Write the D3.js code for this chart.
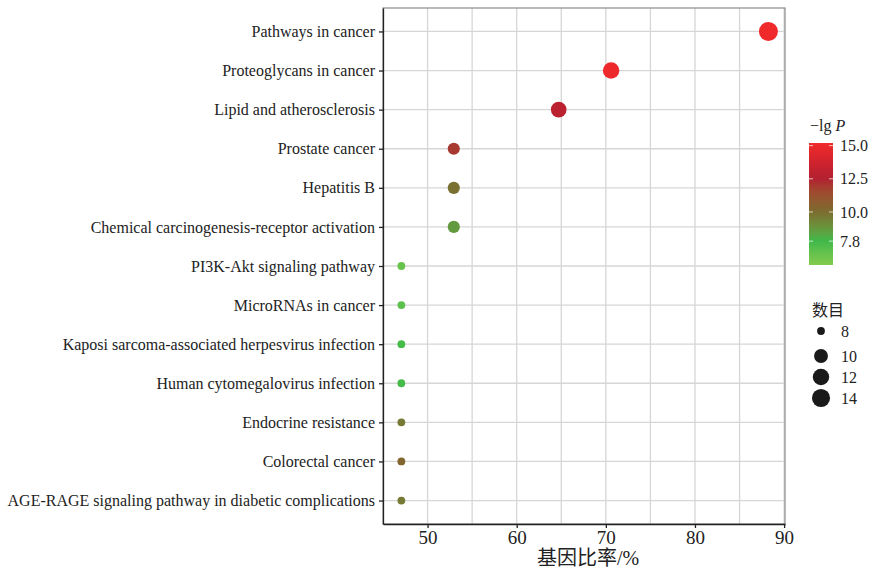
<!DOCTYPE html>
<html lang="zh">
<head>
<meta charset="utf-8">
<title>KEGG bubble chart</title>
<script src="https://cdn.jsdelivr.net/npm/d3@7"></script>
<style>
  body { margin: 0; background: #fff; }
  svg text { font-family: "Liberation Serif", "Noto Sans CJK SC", serif; fill: #222; }
</style>
</head>
<body>
<script>
// data
const pathways = [
  "Pathways in cancer",
  "Proteoglycans in cancer",
  "Lipid and atherosclerosis",
  "Prostate cancer",
  "Hepatitis B",
  "Chemical carcinogenesis-receptor activation",
  "PI3K-Akt signaling pathway",
  "MicroRNAs in cancer",
  "Kaposi sarcoma-associated herpesvirus infection",
  "Human cytomegalovirus infection",
  "Endocrine resistance",
  "Colorectal cancer",
  "AGE-RAGE signaling pathway in diabetic complications"
];
const geneRatio = [88.24, 70.59, 64.71, 52.94, 52.94, 52.94, 47.06, 47.06, 47.06, 47.06, 47.06, 47.06, 47.06];
const counts    = [15, 12, 11, 9, 9, 9, 8, 8, 8, 8, 8, 8, 8];
const negLogP   = [15.1, 15.0, 12.9, 12.0, 9.9, 8.7, 6.8, 7.1, 7.6, 7.6, 9.6, 10.3, 9.6];
const xTicks = [50, 60, 70, 80, 90];
const xMinor = [55, 65, 75, 85];
const colorTicks = [7.8, 10.0, 12.5, 15.0];
const sizeBreaks = [8, 10, 12, 14];

const W = 875, H = 570;
const pLeft = 383, pRight = 785, pTop = 8, pBottom = 524;

const svg = d3.select("body").append("svg")
  .attr("width", W).attr("height", H);

const x = d3.scaleLinear().domain([45, 90.1]).range([pLeft, pRight]);
const y = d3.scalePoint().domain(pathways).range([pTop, pBottom]).padding(0.6);
// size scale, shaped to what the dots measure in the picture
const r = d3.scaleLinear().domain([8, 9, 11, 15]).range([3.9, 6.1, 7.8, 9.5]);
// green -> olive -> red, as in the picture
const color = d3.scaleLinear()
  .domain([6.0, 7.8, 10.0, 12.5, 15.2])
  .range(["#84cb4e", "#3db94a", "#7b6c2f", "#b21f30", "#f22a2a"])
  .interpolate(d3.interpolateLab);

// grid
const grid = svg.append("g");
grid.selectAll(".gx").data(xTicks.concat(xMinor)).enter().append("line")
  .attr("x1", d => x(d)).attr("x2", d => x(d))
  .attr("y1", pTop).attr("y2", pBottom)
  .attr("stroke", "#d6d6d6").attr("stroke-width", 1.3);
grid.selectAll(".gy").data(pathways).enter().append("line")
  .attr("x1", pLeft).attr("x2", pRight)
  .attr("y1", d => y(d)).attr("y2", d => y(d))
  .attr("stroke", "#d6d6d6").attr("stroke-width", 1.3);

// panel border (grey) then black axis lines
svg.append("rect")
  .attr("x", pLeft).attr("y", pTop)
  .attr("width", pRight - pLeft).attr("height", pBottom - pTop)
  .attr("fill", "none").attr("stroke", "#8a8a8a").attr("stroke-width", 1.2);

// points
svg.append("g").selectAll("circle")
  .data(pathways).enter().append("circle")
  .attr("cx", (d, i) => x(geneRatio[i]))
  .attr("cy", d => y(d))
  .attr("r", (d, i) => r(counts[i]))
  .attr("fill", (d, i) => color(negLogP[i]));

// axes
const yAxis = svg.append("g")
  .attr("transform", "translate(" + pLeft + ",0)")
  .call(d3.axisLeft(y).tickSize(4).tickSizeOuter(0).tickPadding(4));
yAxis.selectAll("text").style("font-size", "16px");

const xAxis = svg.append("g")
  .attr("transform", "translate(0," + pBottom + ")")
  .call(d3.axisBottom(x).tickValues(xTicks).tickSize(4).tickSizeOuter(0).tickPadding(3));
xAxis.selectAll("text").style("font-size", "19px");

svg.selectAll(".tick text").attr("font-family", null);
yAxis.attr("font-family", null);
xAxis.attr("font-family", null);
svg.selectAll(".domain").attr("stroke", "#222").attr("stroke-width", 1.3);
svg.selectAll(".tick line").attr("stroke", "#222").attr("stroke-width", 1.3);

svg.append("text")
  .attr("x", (pLeft + pRight) / 2 + 4).attr("y", 565)
  .attr("text-anchor", "middle")
  .style("font-size", "20px")
  .text("基因比率/%");

// colour legend
const barX = 809, barW = 24, barTop = 143, barBot = 265;
const cy = d3.scaleLinear().domain([6.0, 15.2]).range([barBot, barTop]);

const defs = svg.append("defs");
const grad = defs.append("linearGradient")
  .attr("id", "cbar").attr("x1", 0).attr("y1", 1).attr("x2", 0).attr("y2", 0);
d3.range(0, 1.0001, 0.05).forEach(t => {
  grad.append("stop")
    .attr("offset", t)
    .attr("stop-color", color(6.0 + t * (15.2 - 6.0)));
});

const lt = svg.append("text").attr("x", 810).attr("y", 131).style("font-size", "16px");
lt.append("tspan").text("\u2212lg ");
lt.append("tspan").style("font-style", "italic").text("P");

svg.append("rect")
  .attr("x", barX).attr("y", barTop)
  .attr("width", barW).attr("height", barBot - barTop)
  .attr("fill", "url(#cbar)");

const cticks = svg.append("g");
cticks.selectAll("line.l").data(colorTicks).enter().append("line")
  .attr("x1", barX).attr("x2", barX + 4)
  .attr("y1", d => cy(d)).attr("y2", d => cy(d))
  .attr("stroke", "#fff").attr("stroke-opacity", 0.7);
cticks.selectAll("line.r").data(colorTicks).enter().append("line")
  .attr("x1", barX + barW - 4).attr("x2", barX + barW)
  .attr("y1", d => cy(d)).attr("y2", d => cy(d))
  .attr("stroke", "#fff").attr("stroke-opacity", 0.7);
cticks.selectAll("text").data(colorTicks).enter().append("text")
  .attr("x", 840).attr("y", d => cy(d))
  .attr("dy", "0.35em")
  .style("font-size", "16px")
  .text(d => d.toFixed(1));

// size legend
svg.append("text").attr("x", 812).attr("y", 316)
  .style("font-size", "16px").text("数目");

const sl = svg.append("g").selectAll("g")
  .data(sizeBreaks).enter().append("g")
  .attr("transform", (d, i) => "translate(821," + (i === 0 ? 331 : 335 + i * 21) + ")");
sl.append("circle").attr("r", d => r(d)).attr("fill", "#1a1a1a");
sl.append("text").attr("x", 20).attr("dy", "0.35em")
  .style("font-size", "16px").text(d => d);
</script>
</body>
</html>
